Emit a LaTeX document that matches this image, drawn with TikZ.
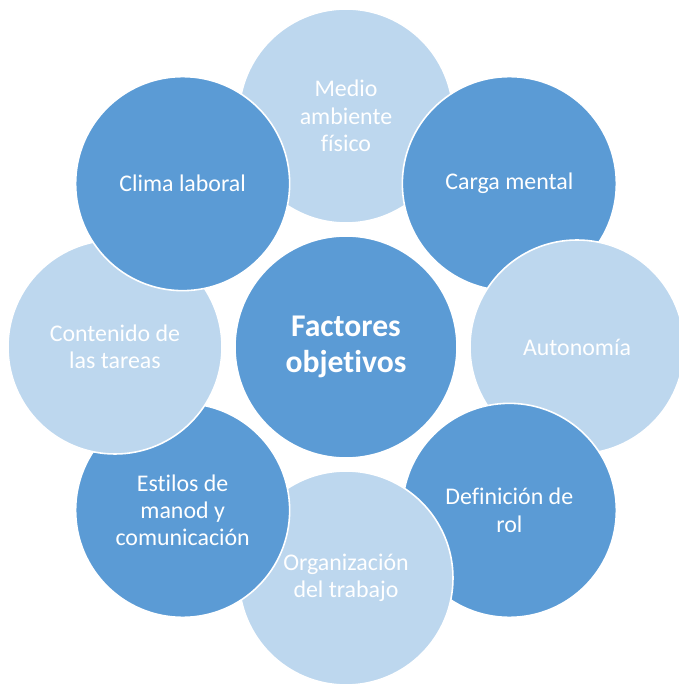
\documentclass[tikz,border=0pt]{standalone}
\usepackage{fontspec}
\setmainfont{Carlito}[Ligatures=NoCommon]
\definecolor{darkblue}{HTML}{5B9BD5}
\definecolor{lightblue}{HTML}{BDD7EE}

\begin{document}
\begin{tikzpicture}[
	every node/.style = {circle, draw = white, line width = 0.9pt, text = white,
		align = center, minimum size = 4.28cm, inner sep = 0pt,
		font = \fontsize{13.6}{15.5}\selectfont},
	dark/.style = {fill = darkblue},
	light/.style = {fill = lightblue},
	hub/.style = {fill = darkblue, minimum size = 4.44cm,
		font = \fontsize{18}{20.5}\selectfont\bfseries}
	]
	
	\useasboundingbox (-6.92,-6.78) rectangle (6.64,6.94);
	
	% outer ring, drawn in order so that each one lies over the one before
	\node[light] (medio)   at (90:4.62)   {Medio\\ambiente\\físico};
	\node[dark]  (carga)   at (45:4.62)   {Carga mental};
	\node[light] (auto)    at (0:4.62)    {Autonomía};
	\node[dark]  (rol)     at (-45:4.62)  {Definición de\\rol};
	\node[light] (organiz) at (-90:4.62)  {Organización\\del trabajo};
	\node[dark]  (estilos) at (-135:4.62) {Estilos de\\manod y\\comunicación};
	\node[light] (tareas)  at (180:4.62)  {Contenido de\\las tareas};
	\node[dark]  (clima)   at (135:4.62)  {Clima laboral};
	
	% centre
	\node[hub] (factores) at (0,0) {Factores\\objetivos};
	
\end{tikzpicture}
\end{document}
